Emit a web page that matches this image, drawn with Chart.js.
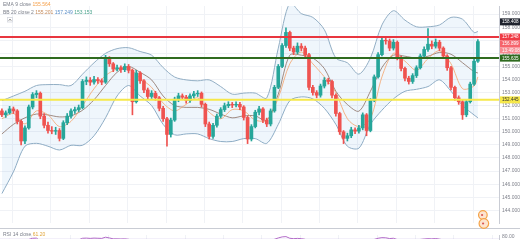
<!DOCTYPE html>
<html>
<head>
<meta charset="utf-8">
<script src="https://cdn.jsdelivr.net/npm/chart.js@4.4.0/dist/chart.umd.min.js"></script>
<style>
  html, body { margin: 0; padding: 0; background: #fff; }
  #wrap { width: 520px; height: 245px; position: relative; overflow: hidden; }
  .pane { position: absolute; left: 0; width: 520px; }
</style>
</head>
<body>
<div id="wrap">
  <div class="pane" style="top:0;height:229px"><canvas id="main"></canvas></div>
  <div class="pane" style="top:229px;height:16px"><canvas id="rsi"></canvas></div>
</div>
<script>
'use strict';

// hourly candles
var opens = [151.60,151.30,151.45,151.75,151.60,150.80,149.30,150.30,151.90,152.85,
  152.95,151.20,150.50,150.10,150.05,150.10,149.50,150.70,151.20,151.60,
  151.70,151.85,153.85,153.95,153.80,154.00,153.90,153.80,155.60,155.20,
  154.80,154.90,154.75,155.00,154.70,152.30,154.50,153.90,153.20,152.70,
  152.95,152.60,151.80,151.00,149.80,150.90,152.50,152.75,152.65,152.40,
  152.75,152.90,152.95,152.10,150.60,149.65,150.50,151.20,151.70,152.00,
  152.10,152.05,152.10,151.90,151.10,149.45,150.40,151.50,151.75,150.90,
  150.60,151.60,153.40,155.00,156.60,157.60,156.40,156.10,156.55,156.40,
  155.90,153.40,153.00,152.80,153.50,153.95,153.85,152.80,151.40,150.00,
  149.50,149.70,150.15,150.05,150.30,151.30,150.10,152.40,154.20,155.90,
  157.00,156.95,156.40,156.85,155.70,154.85,154.10,153.85,154.30,154.90,
  155.80,156.30,156.70,156.55,156.85,156.40,155.80,154.90,153.40,152.60,
  152.30,151.30,152.30,153.65,155.40];
var highs = [151.75,151.60,151.95,151.90,151.70,150.90,150.45,152.05,153.00,153.15,
  153.05,151.40,150.75,150.40,150.35,150.25,150.85,151.40,151.75,151.90,
  152.05,154.00,154.20,154.15,154.25,154.15,154.05,155.85,155.75,155.30,
  155.10,155.05,155.20,155.15,154.80,154.70,154.60,154.00,153.35,153.15,
  153.10,152.70,151.95,151.10,151.05,152.65,152.95,152.90,152.80,152.90,
  153.10,153.15,153.05,152.20,150.75,150.65,151.35,151.85,152.20,152.30,
  152.25,152.30,152.25,152.00,151.20,150.55,151.65,151.95,151.85,151.05,
  151.75,153.55,155.15,156.75,157.96,157.70,156.55,156.80,156.75,156.55,
  156.00,153.55,153.15,153.65,154.15,154.10,153.95,152.90,151.50,150.10,
  149.90,150.35,150.30,150.50,151.45,151.40,152.55,154.35,156.05,157.20,
  157.25,157.10,157.05,156.95,155.80,154.95,154.25,154.45,155.05,155.95,
  156.50,157.90,156.95,157.10,157.00,156.50,155.90,155.00,153.50,152.75,
  152.40,152.45,153.80,155.55,157.05];
var lows = [151.15,151.10,151.35,151.40,150.60,149.00,149.10,150.20,151.75,152.60,
  151.00,150.30,149.90,149.85,149.80,149.30,149.40,150.55,151.05,151.40,
  151.55,151.75,153.60,153.55,153.65,153.70,153.60,153.70,155.00,154.60,
  154.65,154.55,154.60,154.50,151.30,152.20,153.70,153.00,152.50,152.55,
  152.40,151.60,150.80,148.90,149.60,150.80,152.30,152.45,152.20,152.25,
  152.60,152.70,151.90,150.40,149.45,149.50,150.35,151.05,151.55,151.85,
  151.85,151.90,151.70,150.90,149.10,149.30,150.30,151.30,150.70,150.40,
  150.45,151.50,153.30,154.90,156.45,156.20,155.90,155.95,156.20,155.70,
  153.20,152.80,152.60,152.65,153.35,153.65,152.60,151.20,149.80,149.10,
  149.30,149.55,149.85,149.90,150.15,149.70,150.00,152.30,154.10,155.80,
  156.70,156.20,156.25,155.50,154.65,153.90,153.65,153.70,154.15,154.80,
  155.65,156.15,156.35,156.40,156.20,155.60,154.70,153.20,152.40,152.10,
  150.95,151.15,152.20,153.55,155.30];
var closes = [151.30,151.45,151.75,151.60,150.80,149.30,150.30,151.90,152.85,152.95,
  151.20,150.50,150.10,150.05,150.10,149.50,150.70,151.20,151.60,151.70,
  151.85,153.85,153.95,153.80,154.00,153.90,153.80,155.60,155.20,154.80,
  154.90,154.75,155.00,154.70,152.30,154.50,153.90,153.20,152.70,152.95,
  152.60,151.80,151.00,149.80,150.90,152.50,152.75,152.65,152.40,152.75,
  152.90,152.95,152.10,150.60,149.65,150.50,151.20,151.70,152.00,152.10,
  152.05,152.10,151.90,151.10,149.45,150.40,151.50,151.75,150.90,150.60,
  151.60,153.40,155.00,156.60,157.60,156.40,156.10,156.55,156.40,155.90,
  153.40,153.00,152.80,153.50,153.95,153.85,152.80,151.40,150.00,149.50,
  149.70,150.15,150.05,150.30,151.30,150.10,152.40,154.20,155.90,157.00,
  156.95,156.40,156.85,155.70,154.85,154.10,153.85,154.30,154.90,155.80,
  156.30,156.70,156.55,156.85,156.40,155.80,154.90,153.40,152.60,152.30,
  151.30,152.30,153.65,155.40,156.90];

// indicator lines, read at every third bar
var bandIdx = [0,3,6,9,12,15,18,21,24,27,30,33,36,39,42,45,48,51,54,57,60,63,66,69,72,75,78,81,84,87,90,93,96,99,102,105,108,111,114,117,120,123,124];
var bbUpper = [152.38,152.74,153.10,153.54,153.61,153.61,153.54,154.41,155.28,156.00,156.36,156.43,156.14,155.86,154.91,154.19,153.97,153.90,153.97,153.46,152.88,152.96,152.96,152.59,156.40,159.84,159.04,158.75,157.81,155.64,155.28,154.41,155.64,158.17,159.26,158.54,158.03,158.03,158.17,158.75,158.61,157.59,157.67];
var bbLower = [145.28,146.94,148.90,149.12,148.90,148.61,148.97,148.97,149.70,151.07,152.74,153.54,152.74,152.01,150.57,149.77,149.84,149.84,149.48,149.26,149.26,149.48,149.48,149.12,150.57,152.38,152.67,152.52,151.80,150.57,148.90,148.75,150.57,151.65,152.52,153.10,153.25,153.46,153.97,153.10,152.01,151.29,151.07];
var bbBasis = [149.84,150.57,151.07,151.36,151.29,151.14,151.22,151.65,152.45,153.54,154.55,154.99,154.55,153.97,152.74,152.01,151.87,151.87,151.72,151.36,151.07,151.22,151.22,150.86,152.88,155.86,155.86,155.64,154.84,153.10,152.09,151.58,153.10,154.91,155.86,155.78,155.64,155.78,156.07,155.93,155.28,154.60,154.50];
var ema9 = [151.0,151.4,150.6,151.6,151.3,150.4,150.8,152.0,153.3,154.3,154.8,154.9,154.1,153.4,152.2,151.6,152.1,152.6,151.5,151.0,151.7,151.6,150.9,150.9,152.6,155.2,156.1,155.2,154.2,153.0,151.0,150.4,151.0,154.2,156.0,155.4,154.7,155.6,156.2,155.2,153.3,153.5,154.2];
var rsi14 = [52,55,62,60,48,38,47,62,70,71,52,45,42,42,43,39,50,54,57,58,
  59,70,71,69,71,70,69,77,72,66,66,65,66,63,45,58,54,49,46,48,
  46,41,37,31,40,51,53,52,50,53,54,54,48,39,35,41,46,49,51,52,
  52,52,50,45,36,42,49,51,46,44,51,63,72,79,81,70,67,69,67,63,
  46,44,43,48,51,50,44,37,31,29,31,35,35,37,45,38,52,62,70,74,
  73,68,70,61,56,52,50,53,57,62,65,67,66,68,64,59,53,45,41,40,
  35,43,50,57,61.2];

// horizontal levels and axis tags
var levelPrices = [157.248, 155.635, 152.445];
var levelColors = ['#e8363f', '#2f6b1f', '#f6e84a'];
var tagPrices = [158.408, 157.248, 156.899, 155.635, 152.445];
var tagColors = ['#1e222d', '#ef3b45', '#f6646c', '#2f6b1f', '#f6e84a'];
var tagText = ['#ffffff', '#ffffff', '#ffffff', '#ffffff', '#333333'];
var countdown = '13:49:08';
var priceTicks = [144,145,146,147,148,149,150,151,152,153,154,155,156,157,158,159];
var timeGrid = [7.75,17.75,27.75,37.75,47.75,57.75,67.75,77.75,87.75,97.75,107.75,117.75,127.75];
var rsiTicks = [80];
var legendEma = '155.564';
var legendBB = ['155.201', '157.249', '153.153'];
var legendRsi = '61.20';

var FONT = '"Liberation Sans", Arial, sans-serif';
var upColor = '#26a69a', downColor = '#ef5350';
var colors = closes.map(function(c, i){ return c >= opens[i] ? upColor : downColor; });

var pts = function(xs, ys){ return ys.map(function(v, i){ return { x: xs[i], y: v }; }); };
var flat = function(v){ return [{ x: -0.5, y: v }, { x: 129.5, y: v }]; };
var lineSet = function(data, color, width, order, extra){
  var d = { type: 'line', data: data, borderColor: color, borderWidth: width, pointRadius: 0,
    tension: 0.3, fill: false, order: order };
  for (var k in extra) d[k] = extra[k];
  return d;
};

var datasets = [
  lineSet(pts(bandIdx, bbUpper), '#92aec4', 1, 9, { fill: '+1', backgroundColor: 'rgba(33,130,210,0.07)' }),
  lineSet(pts(bandIdx, bbLower), '#92aec4', 1, 9),
  lineSet(pts(bandIdx, bbBasis), '#8a6f62', 0.8, 8),
  lineSet(pts(bandIdx, ema9), '#f4a36b', 0.8, 7),
  { type: 'bar', data: closes.map(function(c, i){ return { x: i, y: [lows[i], highs[i]] }; }),
    backgroundColor: colors, barThickness: 1, grouped: false, order: 5 },
  { type: 'bar', data: closes.map(function(c, i){ return { x: i, y: [opens[i], c] }; }),
    backgroundColor: colors, barThickness: 3, grouped: false, order: 4 }
];
levelPrices.forEach(function(p, i){
  datasets.push(lineSet(flat(p), levelColors[i], 2, 1, { tension: 0 }));
});

var xScale = {
  type: 'linear', min: -0.5, max: 129.5, offset: false,
  ticks: { display: false }, border: { display: false },
  grid: { color: '#f0f2f6', drawTicks: false },
  afterBuildTicks: function(s){ s.ticks = timeGrid.map(function(v){ return { value: v }; }); }
};

var mainOverlay = {
  id: 'mainOverlay',
  afterDraw: function(chart){
    var ctx = chart.ctx, y = chart.scales.y, left = y.left, w = chart.width - left - 1;
    ctx.save();
    // pane separator
    ctx.strokeStyle = '#c9ccd4'; ctx.lineWidth = 1;
    ctx.beginPath(); ctx.moveTo(0, chart.height - 0.5); ctx.lineTo(chart.width, chart.height - 0.5); ctx.stroke();

    // axis tags
    ctx.font = '4.6px ' + FONT; ctx.textBaseline = 'middle'; ctx.textAlign = 'left';
    var prevBottom = -99;
    tagPrices.forEach(function(p, i){
      var cy = y.getPixelForValue(p), top = Math.max(cy - 3.5, prevBottom);
      ctx.fillStyle = tagColors[i];
      ctx.fillRect(left + 1, top, w, 7);
      ctx.fillStyle = tagText[i];
      ctx.fillText(p.toFixed(3), left + 3, top + 3.7);
      prevBottom = top + 7;
      if (i === 2) {
        ctx.fillStyle = '#f88a90';
        ctx.fillRect(left + 1, prevBottom, w, 6);
        ctx.fillStyle = '#ffffff';
        ctx.fillText(countdown, left + 3, prevBottom + 3.2);
        prevBottom += 6;
      }
    });

    // legend
    ctx.font = '5px ' + FONT;
    var x0 = 3;
    ctx.fillStyle = '#7b7f8a'; ctx.fillText('EMA 9 close', x0, 5);
    ctx.fillStyle = '#f5a04a'; ctx.fillText(legendEma, x0 + ctx.measureText('EMA 9 close ').width, 5);
    ctx.fillStyle = '#7b7f8a'; ctx.fillText('BB 20 close 2', x0, 12.5);
    var bx = x0 + ctx.measureText('BB 20 close 2 ').width;
    var bbCols = ['#c58a5a', '#5b8fc8', '#4aa38c'];
    legendBB.forEach(function(t, i){
      ctx.fillStyle = bbCols[i]; ctx.fillText(t, bx, 12.5);
      bx += ctx.measureText(t + ' ').width;
    });
    ctx.strokeStyle = '#d5d8df'; ctx.lineWidth = 0.8;
    ctx.strokeRect(7.5, 17.5, 5, 4.5);
    ctx.beginPath(); ctx.moveTo(8.8, 20.6); ctx.lineTo(10, 19.2); ctx.lineTo(11.2, 20.6); ctx.strokeStyle = '#555'; ctx.stroke();

    // event badges
    var ex = chart.scales.x.getPixelForValue(125.3);
    [[ex, 215, 4.3], [ex + 1, 223.5, 4.8]].forEach(function(b){
      ctx.beginPath(); ctx.arc(b[0], b[1], b[2], 0, Math.PI * 2);
      ctx.fillStyle = '#fde4cf'; ctx.fill();
      ctx.strokeStyle = '#f5a347'; ctx.lineWidth = 1.2; ctx.stroke();
      ctx.beginPath(); ctx.arc(b[0] - 0.8, b[1], 1.1, 0, Math.PI * 2);
      ctx.fillStyle = '#d9534f'; ctx.fill();
    });
    ctx.restore();
  }
};

new Chart(document.getElementById('main'), {
  type: 'bar',
  data: { datasets: datasets },
  options: {
    responsive: true, maintainAspectRatio: false, animation: false,
    layout: { padding: 0 },
    plugins: { legend: { display: false }, tooltip: { enabled: false } },
    scales: {
      x: xScale,
      y: {
        position: 'right', min: 143.03, max: 159.62,
        ticks: { font: { size: 5, family: FONT }, color: '#80838d', padding: 3,
          callback: function(v){ return v.toFixed(3); } },
        grid: { color: '#f0f2f6', drawTicks: false },
        border: { display: true, color: '#c9ccd4' },
        afterBuildTicks: function(s){ s.ticks = priceTicks.map(function(v){ return { value: v }; }); },
        afterFit: function(s){ s.width = 21; }
      }
    }
  },
  plugins: [mainOverlay]
});

var rsiOverlay = {
  id: 'rsiOverlay',
  beforeDatasetsDraw: function(chart){
    var ctx = chart.ctx, a = chart.chartArea, y70 = chart.scales.y.getPixelForValue(70);
    ctx.save();
    ctx.fillStyle = 'rgba(126,87,194,0.12)';
    ctx.fillRect(a.left, y70, a.right - a.left, a.bottom - y70);
    ctx.restore();
  },
  afterDraw: function(chart){
    var ctx = chart.ctx;
    ctx.save();
    ctx.font = '5px ' + FONT; ctx.textBaseline = 'middle';
    ctx.fillStyle = '#7b7f8a'; ctx.fillText('RSI 14 close', 3, 6);
    ctx.fillStyle = '#e0a43a'; ctx.fillText(legendRsi, 3 + ctx.measureText('RSI 14 close ').width, 6);
    ctx.restore();
  }
};

new Chart(document.getElementById('rsi'), {
  type: 'line',
  data: { datasets: [ lineSet(rsi14.map(function(v, i){ return { x: i, y: v }; }), '#b26bc8', 1, 1, { tension: 0 }) ] },
  options: {
    responsive: true, maintainAspectRatio: false, animation: false,
    layout: { padding: 0 },
    plugins: { legend: { display: false }, tooltip: { enabled: false } },
    scales: {
      x: xScale,
      y: {
        position: 'right', min: 65, max: 91.7,
        ticks: { font: { size: 5, family: FONT }, color: '#80838d', padding: 3,
          callback: function(v){ return v.toFixed(2); } },
        grid: { display: false, drawTicks: false },
        border: { display: true, color: '#c9ccd4' },
        afterBuildTicks: function(s){ s.ticks = rsiTicks.map(function(v){ return { value: v }; }); },
        afterFit: function(s){ s.width = 21; }
      }
    }
  },
  plugins: [rsiOverlay]
});
</script>
</body>
</html>
